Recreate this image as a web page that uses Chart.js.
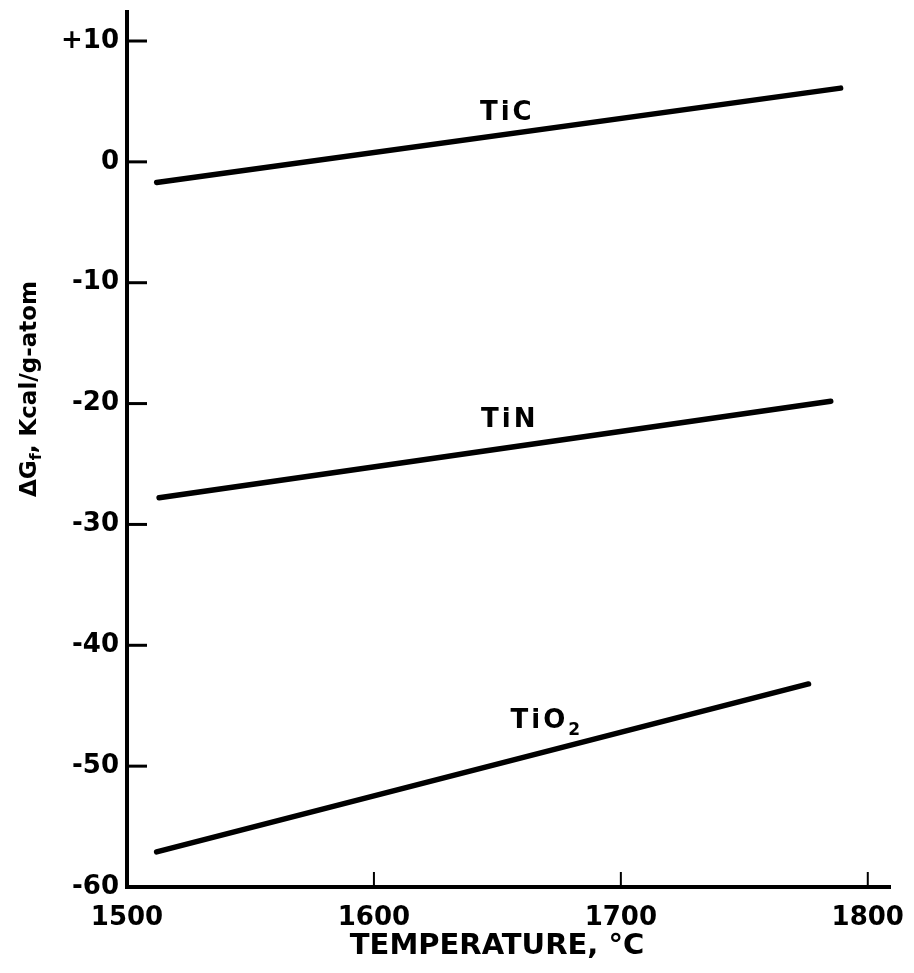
<!DOCTYPE html>
<html>
<head>
<meta charset="utf-8">
<script src="https://cdn.jsdelivr.net/npm/chart.js@4.4.1/dist/chart.umd.min.js"></script>
<style>
  html, body { margin: 0; padding: 0; background: #fff; }
  canvas { display: block; }
</style>
</head>
<body>
<canvas id="gibbsChart" width="914" height="973"></canvas>
<script>
// temperature (deg C) and free energy (Kcal/g-atom) at each line end
const ticTemps = [1512, 1789];
const ticEnergy = [-1.7, 6.1];
const tinTemps = [1513, 1785];
const tinEnergy = [-27.8, -19.8];
const tio2Temps = [1512, 1776];
const tio2Energy = [-57.1, -43.2];

const xTicks = [1500, 1600, 1700, 1800];
const yTicks = [10, 0, -10, -20, -30, -40, -50, -60];

// where the compound names sit, in data units
const labelNames = ["TiC", "TiN", "TiO"];
const labelSubs = ["", "", "2"];
const labelTemps = [1654, 1655, 1670];
const labelEnergy = [4.0, -21.4, -46.3];

function toPoints(xs, ys) {
  return xs.map((x, i) => ({ x, y: ys[i] }));
}

const FONT = "DejaVu Sans";

const overlayPlugin = {
  id: "overlay",
  afterDraw(chart) {
    const { ctx, scales: { x, y } } = chart;
    ctx.save();
    ctx.strokeStyle = "#000";
    ctx.fillStyle = "#000";

    // inward tick marks
    ctx.lineWidth = 3;
    yTicks.forEach((v) => {
      if (v === -60) return;
      const py = y.getPixelForValue(v);
      ctx.beginPath();
      ctx.moveTo(x.left, py);
      ctx.lineTo(x.left + 20, py);
      ctx.stroke();
    });
    ctx.lineWidth = 2;
    xTicks.forEach((v) => {
      if (v === 1500) return;
      const px = x.getPixelForValue(v);
      ctx.beginPath();
      ctx.moveTo(px, y.bottom);
      ctx.lineTo(px, y.bottom - 15);
      ctx.stroke();
    });

    // compound labels
    ctx.textBaseline = "middle";
    labelNames.forEach((name, i) => {
      const px = x.getPixelForValue(labelTemps[i]);
      const py = y.getPixelForValue(labelEnergy[i]);
      ctx.font = `bold 26px "${FONT}"`;
      ctx.letterSpacing = "3px";
      const w = ctx.measureText(name).width;
      ctx.font = `bold 17px "${FONT}"`;
      const sw = labelSubs[i] ? ctx.measureText(labelSubs[i]).width : 0;
      const start = px - (w + sw) / 2;
      ctx.font = `bold 26px "${FONT}"`;
      ctx.textAlign = "left";
      ctx.fillText(name, start, py);
      if (labelSubs[i]) {
        ctx.font = `bold 17px "${FONT}"`;
        ctx.fillText(labelSubs[i], start + w, py + 9);
      }
    });
    ctx.letterSpacing = "0px";

    // x axis title
    ctx.font = `bold 29px "${FONT}"`;
    ctx.textAlign = "center";
    ctx.fillText("TEMPERATURE, °C", 497, 946);

    // y axis title, rotated, with subscript f
    ctx.translate(30, 389);
    ctx.rotate(-Math.PI / 2);
    const partA = "ΔG";
    const partSub = "f";
    const partB = ", Kcal/g-atom";
    ctx.font = `bold 23px "${FONT}"`;
    const wA = ctx.measureText(partA).width;
    const wB = ctx.measureText(partB).width;
    ctx.font = `bold 16px "${FONT}"`;
    const wS = ctx.measureText(partSub).width;
    let cx = -(wA + wS + wB) / 2;
    ctx.textAlign = "left";
    ctx.font = `bold 23px "${FONT}"`;
    ctx.fillText(partA, cx, 0);
    cx += wA;
    ctx.font = `bold 16px "${FONT}"`;
    ctx.fillText(partSub, cx, 7);
    cx += wS;
    ctx.font = `bold 23px "${FONT}"`;
    ctx.fillText(partB, cx, 0);

    ctx.restore();
  }
};

const lineStyle = {
  borderColor: "#000",
  borderWidth: 5.5,
  borderCapStyle: "round",
  pointRadius: 0,
  fill: false,
  tension: 0
};

new Chart(document.getElementById("gibbsChart"), {
  type: "line",
  data: {
    datasets: [
      { label: "TiC", data: toPoints(ticTemps, ticEnergy), ...lineStyle },
      { label: "TiN", data: toPoints(tinTemps, tinEnergy), ...lineStyle },
      { label: "TiO2", data: toPoints(tio2Temps, tio2Energy), ...lineStyle }
    ]
  },
  options: {
    responsive: false,
    animation: false,
    devicePixelRatio: 1,
    layout: { padding: { top: 12, right: 24, left: 0, bottom: 0 } },
    plugins: {
      legend: { display: false },
      tooltip: { enabled: false }
    },
    scales: {
      x: {
        type: "linear",
        min: 1500,
        max: 1809,
        afterBuildTicks: (scale) => { scale.ticks = xTicks.map((v) => ({ value: v })); },
        afterFit: (scale) => {
          scale.height = 86;
          scale.paddingLeft = 0;
          scale.paddingRight = 0;
        },
        border: { color: "#000", width: 4 },
        grid: { drawOnChartArea: false, drawTicks: false },
        ticks: {
          autoSkip: false,
          maxRotation: 0,
          padding: 16,
          color: "#000",
          font: { family: FONT, size: 26, weight: "bold" },
          callback: (v) => String(v)
        }
      },
      y: {
        type: "linear",
        min: -60,
        max: 12.4,
        afterBuildTicks: (scale) => { scale.ticks = yTicks.map((v) => ({ value: v })); },
        afterFit: (scale) => {
          scale.width = 127;
          scale.paddingTop = 0;
          scale.paddingBottom = 0;
        },
        border: { color: "#000", width: 4 },
        grid: { drawOnChartArea: false, drawTicks: false },
        ticks: {
          autoSkip: false,
          padding: 8,
          color: "#000",
          font: { family: FONT, size: 26, weight: "bold" },
          callback: (v) => (v > 0 ? "+" + v : String(v))
        }
      }
    }
  },
  plugins: [overlayPlugin]
});
</script>
</body>
</html>
